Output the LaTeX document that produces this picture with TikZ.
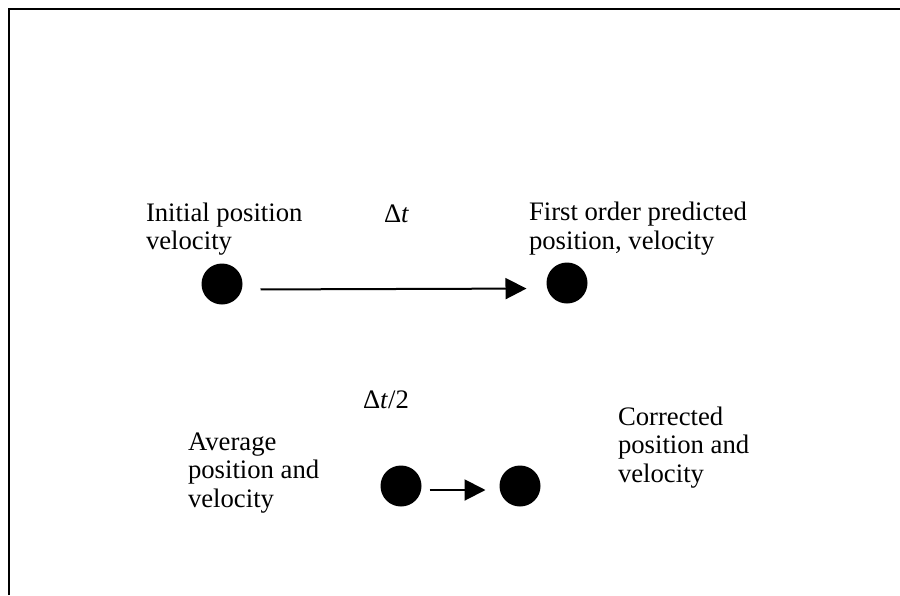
\documentclass[tikz,border=0pt]{standalone}
\usepackage{fontspec}
\setmainfont{Liberation Serif}
\usetikzlibrary{arrows.meta}

\begin{document}
\begin{tikzpicture}[x=1pt,y=-1pt,->,>={Triangle[length=21pt,width=21pt]},
                    line width=2pt,
                    every node/.style={font=\fontsize{26.7}{28.5}\selectfont}]

  \tikzstyle{dot}=[circle,fill=black,draw=none,minimum size=41pt,inner sep=0pt]
  \tikzstyle{txt}=[align=left,anchor=base west,inner sep=0pt]

  \useasboundingbox (0,0) rectangle (900,595);
  \draw[-,line width=2.5pt] (9,595) -- (9,9) -- (900,9);

  \node[dot]  (init)    at (222,284) {};
  \node[dot]  (pred)    at (567,283) {};
  \node[dot]  (avg)     at (401,486) {};
  \node[dot]  (corr)    at (520,486) {};

  % base west = baseline of the last line
  \node[txt]  (initlbl) at (145,249.5) {Initial position\\velocity};
  \node[txt]  (predlbl) at (528,249) {First order predicted\\position, velocity};
  \node[txt]  (avglbl)  at (187,507) {Average\\position and\\velocity};
  \node[txt]  (corrlbl) at (617,482) {Corrected\\position and\\velocity};
  \node[txt]  (dt)      at (383,222) {Δ\textit{t}};
  \node[txt]  (dthalf)  at (362,408) {Δ\textit{t}/2};

  \draw[shorten <=17pt,shorten >=19pt] ([yshift=-5.5pt]init.east) -- ([yshift=-5.5pt]pred.west);
  \draw[shorten <=7pt,shorten >=13pt]  ([yshift=-4pt]avg.east) -- ([yshift=-4pt]corr.west);
\end{tikzpicture}
\end{document}
